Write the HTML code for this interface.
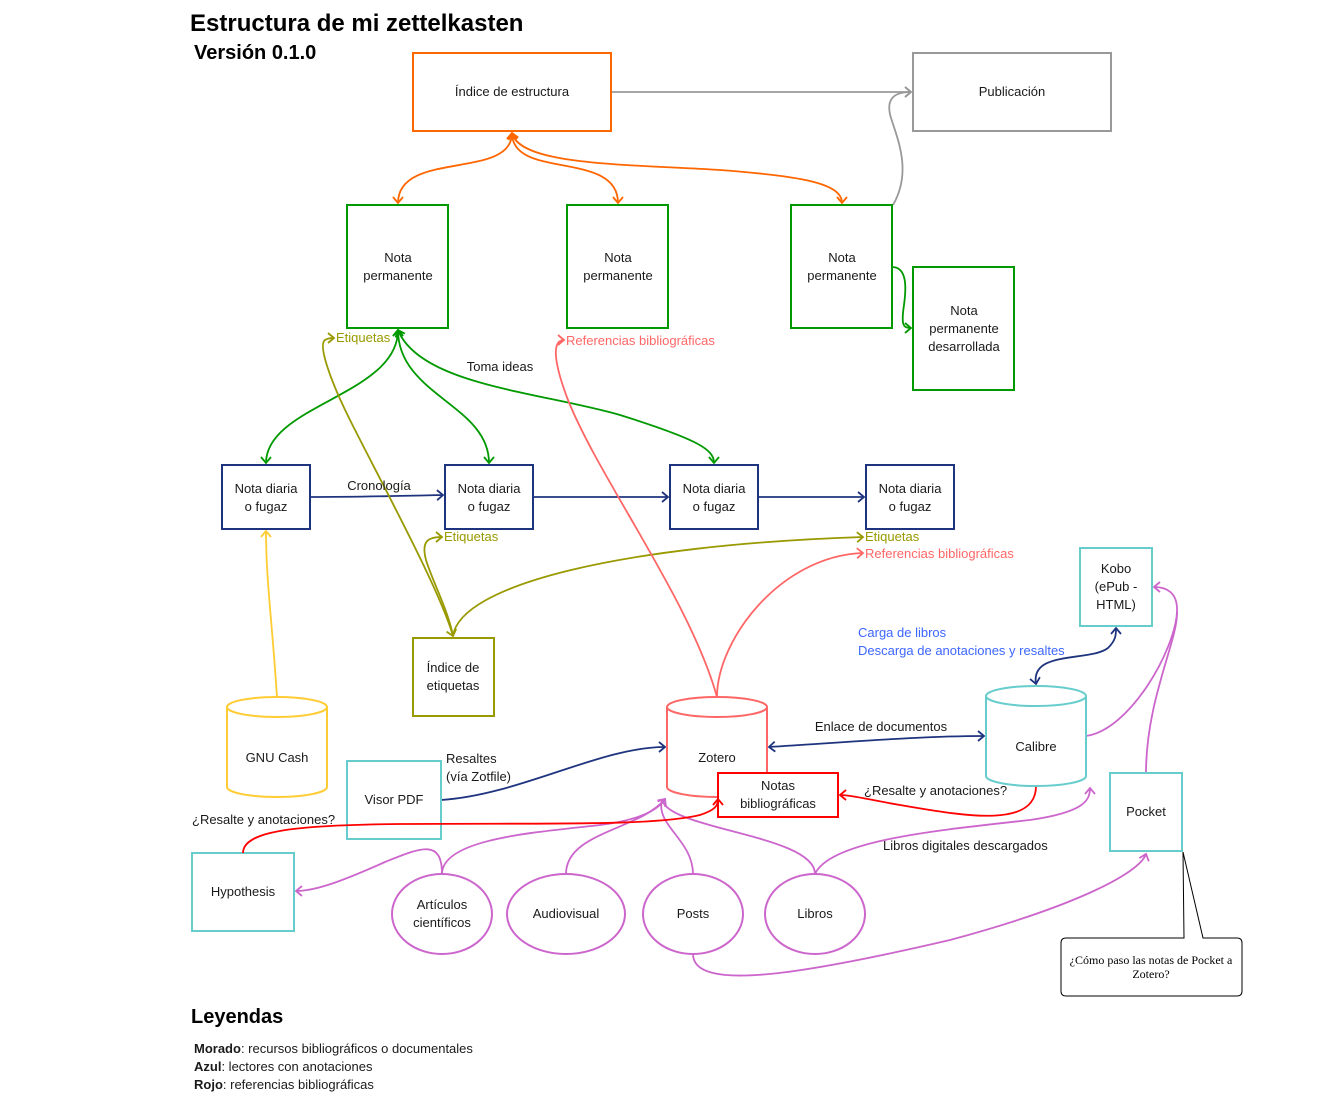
<!DOCTYPE html>
<html><head><meta charset="utf-8"><style>
html,body{margin:0;padding:0;background:#fff;}
svg{display:block;}
text{font-family:"Liberation Sans",Arial,sans-serif;}
.n{font-size:13px;fill:#1a1a1a;text-anchor:middle;}
.l{font-size:13px;fill:#1a1a1a;}
</style></head><body>
<svg width="1319" height="1103" viewBox="0 0 1319 1103" xmlns="http://www.w3.org/2000/svg">
<defs>
<marker id="aO" markerUnits="userSpaceOnUse" markerWidth="14" markerHeight="14" refX="7" refY="6" orient="auto-start-reverse"><path d="M1,1 L7,6 L1,11" fill="none" stroke="#FF6600" stroke-width="1.8"/></marker>
<marker id="aG" markerUnits="userSpaceOnUse" markerWidth="14" markerHeight="14" refX="7" refY="6" orient="auto-start-reverse"><path d="M1,1 L7,6 L1,11" fill="none" stroke="#009900" stroke-width="1.8"/></marker>
<marker id="aN" markerUnits="userSpaceOnUse" markerWidth="14" markerHeight="14" refX="7" refY="6" orient="auto-start-reverse"><path d="M1,1 L7,6 L1,11" fill="none" stroke="#1F347F" stroke-width="1.8"/></marker>
<marker id="aY" markerUnits="userSpaceOnUse" markerWidth="14" markerHeight="14" refX="7" refY="6" orient="auto-start-reverse"><path d="M1,1 L7,6 L1,11" fill="none" stroke="#999900" stroke-width="1.8"/></marker>
<marker id="aS" markerUnits="userSpaceOnUse" markerWidth="14" markerHeight="14" refX="7" refY="6" orient="auto-start-reverse"><path d="M1,1 L7,6 L1,11" fill="none" stroke="#FF6666" stroke-width="1.8"/></marker>
<marker id="aR" markerUnits="userSpaceOnUse" markerWidth="14" markerHeight="14" refX="7" refY="6" orient="auto-start-reverse"><path d="M1,1 L7,6 L1,11" fill="none" stroke="#FF0000" stroke-width="1.8"/></marker>
<marker id="aP" markerUnits="userSpaceOnUse" markerWidth="14" markerHeight="14" refX="7" refY="6" orient="auto-start-reverse"><path d="M1,1 L7,6 L1,11" fill="none" stroke="#CC66CC" stroke-width="1.8"/></marker>
<marker id="aW" markerUnits="userSpaceOnUse" markerWidth="14" markerHeight="14" refX="7" refY="6" orient="auto-start-reverse"><path d="M1,1 L7,6 L1,11" fill="none" stroke="#FFCC33" stroke-width="1.8"/></marker>
<marker id="aA" markerUnits="userSpaceOnUse" markerWidth="14" markerHeight="14" refX="7" refY="6" orient="auto-start-reverse"><path d="M1,1 L7,6 L1,11" fill="none" stroke="#999999" stroke-width="1.8"/></marker>
</defs>

<!-- Titles -->
<text x="190" y="31" style="font-size:24px;font-weight:bold;fill:#000">Estructura de mi zettelkasten</text>
<text x="194" y="59" style="font-size:20px;font-weight:bold;fill:#000">Versión 0.1.0</text>

<g fill="none" stroke-width="1.8">
<!-- gray -->
<path d="M611,92 L911,92" stroke="#999999" marker-end="url(#aA)"/>
<path d="M893,205 C912,172 898,140 891,118 C885,98 895,92 911,92" stroke="#999999" marker-end="url(#aA)"/>
<!-- orange -->
<path d="M512,133 C512,180 398,150 398,203" stroke="#FF6600" marker-start="url(#aO)" marker-end="url(#aO)"/>
<path d="M512,133 C512,180 618,150 618,203" stroke="#FF6600" marker-start="url(#aO)" marker-end="url(#aO)"/>
<path d="M512,133 C520,165 620,164 720,170 C800,176 842,183 842,203" stroke="#FF6600" marker-start="url(#aO)" marker-end="url(#aO)"/>
<!-- green -->
<path d="M398,330 C398,395 266,405 266,463" stroke="#009900" marker-start="url(#aG)" marker-end="url(#aG)"/>
<path d="M398,330 C398,395 489,405 489,463" stroke="#009900" marker-start="url(#aG)" marker-end="url(#aG)"/>
<path d="M398,330 C420,385 540,392 620,415 C700,440 714,450 714,463" stroke="#009900" marker-start="url(#aG)" marker-end="url(#aG)"/>
<path d="M892,267 C908,267 906,290 904,305 C901,325 903,328 911,328" stroke="#009900" marker-end="url(#aG)"/>
<!-- navy -->
<path d="M310,497 C360,497 400,496 443,495" stroke="#1F347F" marker-end="url(#aN)"/>
<path d="M533,497 L668,497" stroke="#1F347F" marker-end="url(#aN)"/>
<path d="M758,497 L864,497" stroke="#1F347F" marker-end="url(#aN)"/>
<path d="M441,800 C520,795 600,747 665,747" stroke="#1F347F" marker-end="url(#aN)"/>
<path d="M769,747 C850,742 920,736 984,736" stroke="#1F347F" marker-start="url(#aN)" marker-end="url(#aN)"/>
<path d="M1036,684 C1030,650 1090,662 1108,648 C1116,640 1116,635 1116,628" stroke="#1F347F" marker-start="url(#aN)" marker-end="url(#aN)"/>
<!-- olive -->
<path d="M453,636 C440,590 380,480 350,420 C330,380 318,345 325,340 C328,338 331,338 334,338" stroke="#999900" marker-start="url(#aY)" marker-end="url(#aY)"/>
<path d="M453,636 C448,610 432,580 426,560 C421,541 428,537 442,537" stroke="#999900" marker-end="url(#aY)"/>
<path d="M453,636 C460,585 620,545 863,537" stroke="#999900" marker-end="url(#aY)"/>
<!-- salmon -->
<path d="M717,697 C690,600 600,480 568,400 C552,358 553,340 564,340" stroke="#FF6666" marker-end="url(#aS)"/>
<path d="M717,697 C717,640 780,556 863,553" stroke="#FF6666" marker-end="url(#aS)"/>
<!-- yellow -->
<path d="M277,697 C272,620 266,580 266,531" stroke="#FFCC33" marker-end="url(#aW)"/>
<!-- purple -->
<path d="M442,874 C442,838 420,848 385,862 C340,882 315,891 296,891" stroke="#CC66CC" marker-end="url(#aP)"/>
<path d="M442,874 C442,838 540,832 600,825 C640,820 658,810 665,799" stroke="#CC66CC" marker-end="url(#aP)"/>
<path d="M566,874 C566,832 640,830 665,799" stroke="#CC66CC" marker-end="url(#aP)"/>
<path d="M693,874 C693,840 655,825 662,800" stroke="#CC66CC"/>
<path d="M815,874 C815,835 670,830 662,800" stroke="#CC66CC"/>
<path d="M815,874 C830,840 940,830 1030,820 C1085,812 1090,800 1090,788" stroke="#CC66CC" marker-end="url(#aP)"/>
<path d="M693,954 C693,992 800,975 950,940 C1080,905 1140,872 1146,854" stroke="#CC66CC" marker-end="url(#aP)"/>
<path d="M1086,736 C1130,730 1175,650 1177,612 C1178,592 1166,587 1154,587" stroke="#CC66CC" marker-end="url(#aP)"/>
<path d="M1146,773 C1146,700 1178,640 1177,612" stroke="#CC66CC"/>
<!-- red -->
<path d="M1036,786 C1036,830 960,815 900,805 C870,800 852,795 840,795" stroke="#FF0000" marker-end="url(#aR)"/>
</g>

<!-- Boxes -->
<g stroke-width="2" fill="#fff">
<rect x="413" y="53" width="198" height="78" stroke="#FF6600"/>
<rect x="913" y="53" width="198" height="78" stroke="#999999"/>
<rect x="347" y="205" width="101" height="123" stroke="#009900"/>
<rect x="567" y="205" width="101" height="123" stroke="#009900"/>
<rect x="791" y="205" width="101" height="123" stroke="#009900"/>
<rect x="913" y="267" width="101" height="123" stroke="#009900"/>
<rect x="222" y="465" width="88" height="64" stroke="#1F347F"/>
<rect x="445" y="465" width="88" height="64" stroke="#1F347F"/>
<rect x="670" y="465" width="88" height="64" stroke="#1F347F"/>
<rect x="866" y="465" width="88" height="64" stroke="#1F347F"/>
<rect x="413" y="638" width="81" height="78" stroke="#999900"/>
<rect x="1080" y="548" width="72" height="78" stroke="#66CCCC"/>
<rect x="347" y="761" width="94" height="78" stroke="#66CCCC"/>
<rect x="1110" y="773" width="72" height="78" stroke="#66CCCC"/>
<rect x="192" y="853" width="102" height="78" stroke="#66CCCC"/>
</g>

<!-- Cylinders -->
<g stroke-width="2" fill="#fff">
<path d="M227,707 L227,787 A50,10 0 0 0 327,787 L327,707" stroke="#FFCC33"/>
<ellipse cx="277" cy="707" rx="50" ry="10" stroke="#FFCC33"/>
<path d="M667,707 L667,787 A50,10 0 0 0 767,787 L767,707" stroke="#FF6666"/>
<ellipse cx="717" cy="707" rx="50" ry="10" stroke="#FF6666"/>
<path d="M986,696 L986,776 A50,10 0 0 0 1086,776 L1086,696" stroke="#66CCCC"/>
<ellipse cx="1036" cy="696" rx="50" ry="10" stroke="#66CCCC"/>
</g>
<rect x="718" y="773" width="120" height="44" fill="#fff" stroke="#FF0000" stroke-width="2"/>

<!-- red line over Visor PDF -->
<path d="M243,853 C243,830 300,825 400,824 C550,823 655,826 700,815 C715,810 718,806 718,799" fill="none" stroke="#FF0000" stroke-width="1.8" marker-end="url(#aR)"/>

<!-- Ellipses -->
<g stroke="#CC66CC" stroke-width="2" fill="#fff">
<ellipse cx="442" cy="914" rx="50" ry="40"/>
<ellipse cx="566" cy="914" rx="59" ry="40"/>
<ellipse cx="693" cy="914" rx="50" ry="40"/>
<ellipse cx="815" cy="914" rx="50" ry="40"/>
</g>

<!-- Callout -->
<path d="M1066,938 L1184,938 L1183,852 L1203,938 L1237,938 Q1242,938 1242,943 L1242,991 Q1242,996 1237,996 L1066,996 Q1061,996 1061,991 L1061,943 Q1061,938 1066,938 Z" fill="#fff" stroke="#000" stroke-width="1"/>
<text x="1151" y="964" style="font-family:'Liberation Serif',serif;font-size:12px;fill:#000;text-anchor:middle">¿Cómo paso las notas de Pocket a</text>
<text x="1151" y="978" style="font-family:'Liberation Serif',serif;font-size:12px;fill:#000;text-anchor:middle">Zotero?</text>

<!-- Node labels -->
<text class="n" x="512" y="96">Índice de estructura</text>
<text class="n" x="1012" y="96">Publicación</text>
<text class="n" x="398" y="262">Nota</text><text class="n" x="398" y="280">permanente</text>
<text class="n" x="618" y="262">Nota</text><text class="n" x="618" y="280">permanente</text>
<text class="n" x="842" y="262">Nota</text><text class="n" x="842" y="280">permanente</text>
<text class="n" x="964" y="315">Nota</text><text class="n" x="964" y="333">permanente</text><text class="n" x="964" y="351">desarrollada</text>
<text class="n" x="266" y="493">Nota diaria</text><text class="n" x="266" y="511">o fugaz</text>
<text class="n" x="489" y="493">Nota diaria</text><text class="n" x="489" y="511">o fugaz</text>
<text class="n" x="714" y="493">Nota diaria</text><text class="n" x="714" y="511">o fugaz</text>
<text class="n" x="910" y="493">Nota diaria</text><text class="n" x="910" y="511">o fugaz</text>
<text class="n" x="453" y="672">Índice de</text><text class="n" x="453" y="690">etiquetas</text>
<text class="n" x="1116" y="573">Kobo</text><text class="n" x="1116" y="591">(ePub -</text><text class="n" x="1116" y="609">HTML)</text>
<text class="n" x="277" y="762">GNU Cash</text>
<text class="n" x="717" y="762">Zotero</text>
<text class="n" x="1036" y="751">Calibre</text>
<text class="n" x="394" y="804">Visor PDF</text>
<text class="n" x="778" y="790">Notas</text><text class="n" x="778" y="808">bibliográficas</text>
<text class="n" x="1146" y="816">Pocket</text>
<text class="n" x="243" y="896">Hypothesis</text>
<text class="n" x="442" y="909">Artículos</text><text class="n" x="442" y="927">científicos</text>
<text class="n" x="566" y="918">Audiovisual</text>
<text class="n" x="693" y="918">Posts</text>
<text class="n" x="815" y="918">Libros</text>

<!-- Edge labels -->
<text class="n" x="500" y="371">Toma ideas</text>
<text class="n" x="379" y="490">Cronología</text>
<text class="l" x="336" y="342" style="fill:#999900">Etiquetas</text>
<text class="l" x="566" y="345" style="fill:#FF6666">Referencias bibliográficas</text>
<text class="l" x="444" y="541" style="fill:#999900">Etiquetas</text>
<text class="l" x="865" y="541" style="fill:#999900">Etiquetas</text>
<text class="l" x="865" y="558" style="fill:#FF6666">Referencias bibliográficas</text>
<text class="l" x="858" y="637" style="fill:#3D66FF">Carga de libros</text>
<text class="l" x="858" y="655" style="fill:#3D66FF">Descarga de anotaciones y resaltes</text>
<text class="n" x="881" y="731">Enlace de documentos</text>
<text class="l" x="446" y="763">Resaltes</text>
<text class="l" x="446" y="781">(vía Zotfile)</text>
<text class="l" x="192" y="824">¿Resalte y anotaciones?</text>
<text class="l" x="864" y="795">¿Resalte y anotaciones?</text>
<text class="l" x="883" y="850">Libros digitales descargados</text>

<!-- Legend -->
<text x="191" y="1023" style="font-size:20px;font-weight:bold;fill:#000">Leyendas</text>
<text class="l" x="194" y="1053"><tspan font-weight="bold">Morado</tspan>: recursos bibliográficos o documentales</text>
<text class="l" x="194" y="1071"><tspan font-weight="bold">Azul</tspan>: lectores con anotaciones</text>
<text class="l" x="194" y="1089"><tspan font-weight="bold">Rojo</tspan>: referencias bibliográficas</text>
</svg>
</body></html>
